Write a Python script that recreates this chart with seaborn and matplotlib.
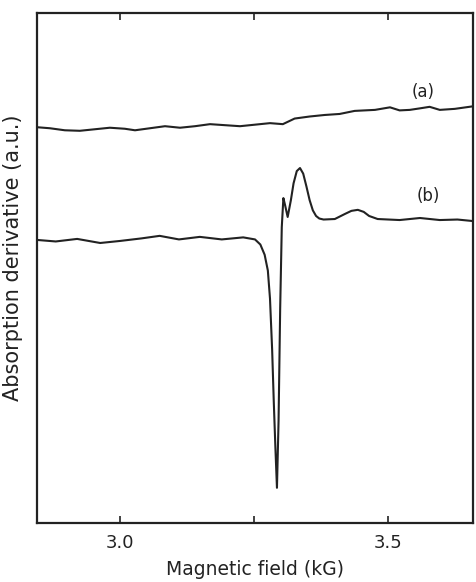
import numpy as np
import pandas as pd
import seaborn as sns
import matplotlib
matplotlib.use("Agg")
import matplotlib.pyplot as plt

# Curve (a)
field_a = [2.845, 2.869, 2.897, 2.925, 2.953, 2.981, 3.009, 3.028, 3.056, 3.084,
           3.112, 3.140, 3.168, 3.196, 3.224, 3.252, 3.280, 3.304, 3.326, 3.354,
           3.382, 3.410, 3.438, 3.457, 3.476, 3.504, 3.522, 3.541, 3.560, 3.578,
           3.597, 3.625, 3.659]
signal_a = [77.6, 77.4, 77.0, 76.9, 77.2, 77.5, 77.3, 77.0, 77.4, 77.8,
            77.5, 77.8, 78.2, 78.0, 77.8, 78.1, 78.4, 78.2, 79.3, 79.7,
            80.0, 80.2, 80.8, 80.9, 81.0, 81.5, 80.9, 81.0, 81.3, 81.6,
            81.0, 81.2, 81.7]

# Curve (b)
field_b = [2.845, 2.880, 2.920, 2.963, 3.000, 3.040, 3.074, 3.110, 3.149, 3.190,
           3.230, 3.252, 3.262, 3.270, 3.276, 3.280, 3.284, 3.287, 3.290, 3.293,
           3.296, 3.299, 3.302, 3.305, 3.308, 3.313, 3.319, 3.324, 3.330, 3.336,
           3.342, 3.348, 3.354, 3.360, 3.366, 3.372, 3.380, 3.401, 3.420, 3.432,
           3.444, 3.455, 3.465, 3.481, 3.522, 3.560, 3.597, 3.630, 3.659]
signal_b = [55.5, 55.2, 55.7, 54.9, 55.3, 55.8, 56.3, 55.6, 56.1, 55.6,
            56.0, 55.6, 54.6, 52.6, 49.5, 44.0, 34.0, 24.0, 15.0, 6.9,
            20.0, 42.0, 58.0, 63.7, 62.4, 60.0, 63.3, 66.6, 69.0, 69.6,
            68.5, 66.0, 63.3, 61.3, 60.2, 59.7, 59.5, 59.6, 60.6, 61.2,
            61.4, 61.0, 60.2, 59.6, 59.4, 59.8, 59.4, 59.5, 59.2]

xticks = [3.0, 3.25, 3.5]
xticklabels = ["3.0", "", "3.5"]

sns.set_style("ticks")
plt.rcParams['font.family'] = ['DejaVu Sans']

fig = plt.figure(figsize=(4.76, 5.82), dpi=100)
ax = fig.add_axes([0.0777, 0.1014, 0.916, 0.8763])

df_a = pd.DataFrame({"field": field_a, "signal": signal_a})
df_b = pd.DataFrame({"field": field_b, "signal": signal_b})
sns.lineplot(data=df_a, x="field", y="signal", ax=ax, color="#222222", lw=1.5, sort=False)
sns.lineplot(data=df_b, x="field", y="signal", ax=ax, color="#222222", lw=1.5, sort=False)

ax.set_xlim(2.845, 3.659)
ax.set_ylim(0, 100)
ax.set_xticks(xticks)
ax.set_xticklabels(xticklabels, fontsize=13)
ax.set_yticks([])
ax.tick_params(axis="x", direction="in", top=True, length=5, width=1.2,
               colors="#222222", pad=8)
for s in ax.spines.values():
    s.set_linewidth(1.6)
    s.set_color("#222222")
    s.set_visible(True)

ax.set_xlabel("Magnetic field (kG)", fontsize=13.5, color="#222222", labelpad=6)
ax.set_ylabel("Absorption derivative (a.u.)", fontsize=15, color="#222222")
ax.yaxis.set_label_coords(-0.033, 0.52)

ax.text(3.565, 84.5, "(a)", fontsize=12, color="#222222", ha="center", va="center")
ax.text(3.576, 64.2, "(b)", fontsize=12, color="#222222", ha="center", va="center")

fig.savefig("out.png", dpi=100)
